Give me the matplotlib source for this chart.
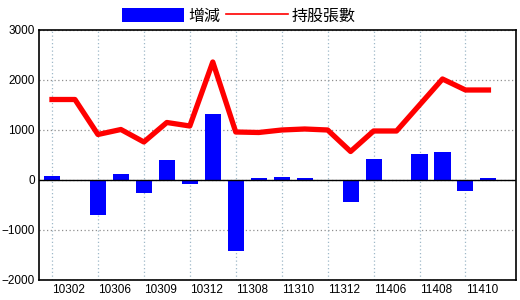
import matplotlib
matplotlib.use("Agg")
import matplotlib.pyplot as plt
from matplotlib.patches import Patch
from matplotlib.lines import Line2D
from matplotlib.ticker import FixedLocator

plt.rcParams['font.family'] = ['Liberation Sans', 'Noto Sans CJK TC', 'DejaVu Sans']

# 每期資料
change = [80, 0, -700, 120, -260, 400, -80, 1320, -1420, 30,
          60, 30, 0, -440, 420, 0, 520, 560, -230, 30]
holders = [1610, 1610, 910, 1010, 760, 1150, 1080, 2360, 960, 950,
           1000, 1020, 1000, 570, 980, 980, 1500, 2020, 1800, 1800]
tick_labels = ["10302", "10306", "10309", "10312", "11308",
               "11310", "11312", "11406", "11408", "11410"]

x = list(range(len(change)))
grid_pos = x[::2]

fig = plt.figure(figsize=(5.2, 3.0), dpi=100)
ax = fig.add_axes([0.075, 0.0667, 0.9173, 0.8333])

ax.bar(x, change, width=0.7, color="#0000ff", zorder=2)
ax.plot(x, holders, color="#ff0000", lw=3.8, zorder=3)
ax.axhline(0, color="black", lw=1.0, zorder=2.5)

ax.set_xlim(-0.565, 20.2)
ax.set_ylim(-2000, 3000)
ax.set_yticks([-2000, -1000, 0, 1000, 2000, 3000])

# 格線在偶數期, 標籤放在格線右邊
ax.xaxis.set_minor_locator(FixedLocator(grid_pos))
ax.set_xticks([p + 0.72 for p in grid_pos])
ax.set_xticklabels(tick_labels)
ax.grid(axis="x", which="minor", color="#9fb8c8", linestyle=(0, (1, 2)), lw=0.9, zorder=0)
ax.grid(axis="y", which="major", color="#909090", linestyle=(0, (1, 2)), lw=0.9, zorder=0)
ax.tick_params(axis="both", which="both", length=0, labelsize=8.5, colors="black")
ax.tick_params(axis="y", pad=3)
ax.tick_params(axis="x", pad=3)

for s in ax.spines.values():
    s.set_linewidth(1.2)

# 圖例
handles = [Patch(facecolor="#0000ff", edgecolor="none"),
           Line2D([], [], color="#ff0000", lw=1.2)]
fig.legend(handles, ["增減", "持股張數"], loc="center", ncol=2,
           bbox_to_anchor=(239 / 520, 1 - 16 / 300), frameon=False,
           prop={"family": ["Noto Sans CJK TC", "DejaVu Sans"], "size": 11.5},
           handlelength=3.9, handleheight=1.0, handletextpad=0.25,
           columnspacing=0.35, borderpad=0)

fig.savefig("out.png", dpi=100)
